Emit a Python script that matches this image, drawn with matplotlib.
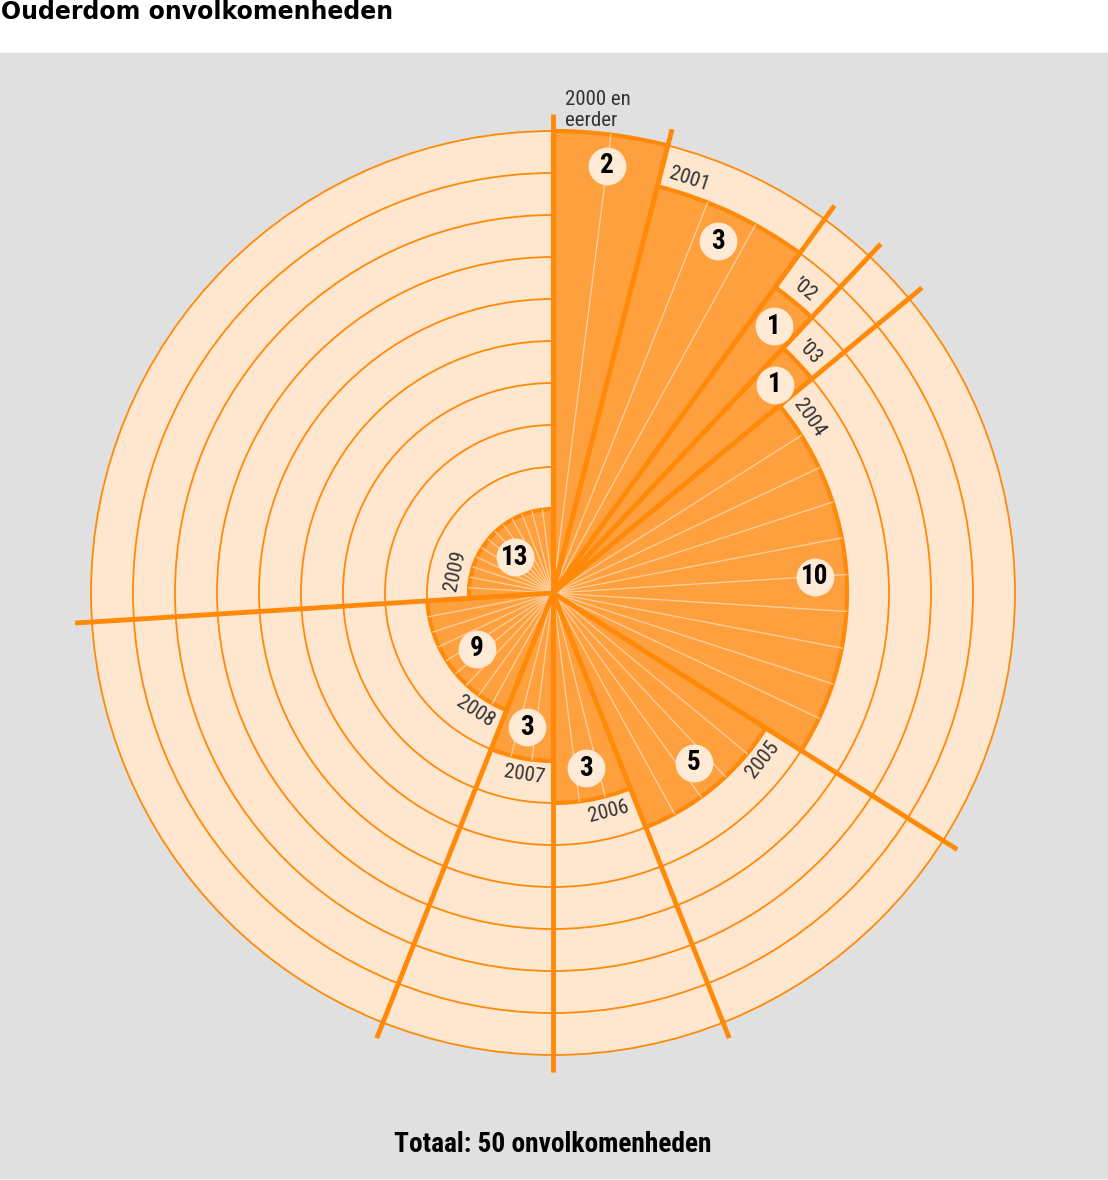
import numpy as np
import matplotlib.pyplot as plt
from matplotlib.patches import Rectangle
from matplotlib import font_manager

# data: age of the imperfections (year they date from) and how many there are
years = ['2000 en\neerder', '2001', '\u201902', '\u201903', '2004',
         '2005', '2006', '2007', '2008', '2009']
counts = [2, 3, 1, 1, 10, 5, 3, 3, 9, 13]
rings = [11, 10, 9, 8, 7, 6, 5, 4, 3, 2]   # older = further out

fill = '#ffa03e'
edge = '#ff8a0a'
disk = '#ffe6cf'
bubble = '#ffead6'
grey = '#e0e0e0'
thin = '#ffd0a0'

# pick a condensed font if one is installed
fonts = font_manager.fontManager.ttflist
names = {f.name for f in fonts}
stretch = 'normal'
narrow = ['DejaVu Sans']
for cand in ['Liberation Sans Narrow', 'Roboto Condensed', 'Open Sans Condensed',
             'Noto Sans Condensed', 'DejaVu Sans Condensed']:
    if cand in names:
        narrow = [cand, 'DejaVu Sans']
        break
else:
    if any(f.name == 'DejaVu Sans' and f.stretch in ('condensed', 'semi-condensed')
           for f in fonts):
        stretch = 'condensed'
is_narrow = narrow[0] != 'DejaVu Sans' or stretch == 'condensed'
nkw = dict(family=narrow, stretch=stretch)

fig = plt.figure(figsize=(11.08, 11.80), dpi=100)
fig.add_artist(Rectangle((0, 2 / 1180), 1, 1125 / 1180, transform=fig.transFigure,
                         color=grey, zorder=0))

ax = fig.add_axes([70 / 1108, 104 / 1180, 966 / 1108, 966 / 1180], projection='polar')
ax.set_facecolor('none')
ax.set_theta_zero_location('N')
ax.set_theta_direction(-1)
ax.set_ylim(0, 11.5)
ax.spines['polar'].set_visible(False)
ax.set_xticks([])
ax.set_rgrids(range(1, 12))
ax.set_yticklabels([])
ax.grid(axis='y', color=edge, lw=1.3)
ax.set_axisbelow(True)

counts_a = np.array(counts)
rings_a = np.array(rings)
unit = 2 * np.pi / counts_a.sum()
starts = np.concatenate([[0], np.cumsum(counts_a)[:-1]]) * unit
widths = counts_a * unit
centers = starts + widths / 2

# peach disk behind the rings
ax.bar(0, max(rings), width=2 * np.pi, color=disk, lw=0, zorder=0.1)

ax.bar(centers, rings_a, width=widths, color=fill, edgecolor=edge, lw=3, zorder=2)

# thin lines, one per imperfection
for s, n, r in zip(starts, counts, rings):
    for k in range(1, n):
        th = s + k * unit
        ax.plot([th, th], [0, r], color=thin, lw=0.9, zorder=2.5)

# long separators between years
for s in starts:
    ax.plot([s, s], [0, 11.4], color=edge, lw=3.5, zorder=3, solid_capstyle='butt')

# count bubbles
ax.scatter(centers, rings_a - 0.75, s=740, color=bubble, lw=0, zorder=4)
for c, n, r in zip(centers, counts, rings):
    ax.text(c, r - 0.75, str(n), ha='center', va='center',
            fontsize=19.5 if is_narrow else 17, fontweight='heavy', zorder=5, **nkw)

# year labels along the arcs
ysize = 15 if is_narrow else 13.5
for i, (lab, s, c, n, r) in enumerate(zip(years, starts, centers, counts, rings)):
    if i == 0:
        ax.text(0.093, r + 0.55, lab, ha='center', va='center', fontsize=ysize,
                color='#333333', linespacing=1.15, multialignment='left', **nkw)
        continue
    rl = r + 0.38
    th = c if n == 1 else s + 0.68 / rl
    rot = -np.degrees(th)
    while rot <= -90:
        rot += 180
    ax.text(th, rl, lab, ha='center', va='center', rotation=rot,
            rotation_mode='anchor', fontsize=ysize, color='#333333', zorder=5, **nkw)

fig.text(0.001, 1 - 12 / 1180, 'Ouderdom onvolkomenheden', ha='left', va='center',
         fontsize=17, fontweight='bold')
fig.text(553 / 1108, 1 - 1145 / 1180, 'Totaal: 50 onvolkomenheden', ha='center',
         va='center', fontsize=19.7 if is_narrow else 16, fontweight='bold', **nkw)

fig.savefig('out.png', dpi=100)
